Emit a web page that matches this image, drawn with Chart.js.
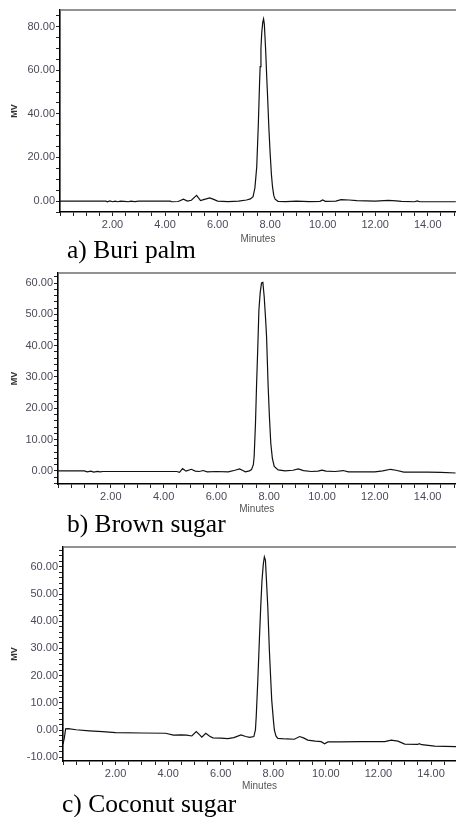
<!DOCTYPE html>
<html>
<head>
<meta charset="utf-8">
<script src="https://cdn.jsdelivr.net/npm/chart.js@4.4.1/dist/chart.umd.min.js"></script>
<style>
    body { margin: 0; background: #fff; }
    #page { position: relative; width: 456px; height: 817px; overflow: hidden; background: #fff; }
    .panel { position: absolute; left: 0; }
    .caption {
        position: absolute;
        font-family: "Liberation Serif", "Times New Roman", serif;
        font-size: 25.5px;
        line-height: 25.5px;
        color: #000;
        white-space: nowrap;
    }
</style>
</head>
<body>
<div id="page">
    <canvas id="chartA" class="panel" width="456" height="245" style="top:0px"></canvas>
    <canvas id="chartB" class="panel" width="456" height="252" style="top:263px"></canvas>
    <canvas id="chartC" class="panel" width="456" height="255" style="top:537px"></canvas>
    <div class="caption" style="left:67px; top:237px">a) Buri palm</div>
    <div class="caption" style="left:67px; top:511px">b) Brown sugar</div>
    <div class="caption" style="left:62px; top:791px">c) Coconut sugar</div>
</div>

<script>
// Chromatogram traces - retention time (minutes) and detector signal (MV)

const timeA = [0.0, 1.0, 1.75, 1.8, 1.9, 2.0, 2.1, 2.2, 2.3, 2.45, 2.6, 2.7, 2.85, 3.0, 4.2, 4.25, 4.5, 4.7, 4.85, 5.0,
    5.2, 5.35, 5.5, 5.7, 5.85, 6.0, 6.4, 6.8, 7.1, 7.25, 7.35, 7.42, 7.49, 7.55, 7.6, 7.62, 7.65, 7.68, 7.72, 7.75,
    7.78, 7.83, 7.87, 7.91, 7.95, 8.0, 8.05, 8.09, 8.14, 8.19, 8.3, 8.6, 9.0, 9.5, 9.9, 10.0, 10.1, 10.5, 10.7, 11.0,
    11.3, 12.0, 12.5, 12.8, 13.0, 13.5, 13.6, 13.7, 15.1];
const mvA = [0.0, 0.0, 0.0, -0.3, 0.1, -0.3, 0.0, -0.3, 0.0, -0.1, -0.3, 0.0, -0.2, 0.0, 0.0, -0.3, -0.2, 0.9, 0.0, 0.4,
    2.6, 0.2, 0.8, 1.5, 0.8, 0.0, -0.2, 0.0, 0.5, 1.0, 2.0, 6.0, 15.7, 35.0, 55.0, 61.6, 70.0, 77.0, 82.0, 83.5,
    81.0, 69.0, 57.0, 46.0, 34.0, 22.0, 12.0, 6.6, 2.5, 0.9, -0.1, -0.2, 0.0, -0.2, -0.1, 0.5, -0.1, 0.0, 0.7, 0.5,
    0.2, 0.0, 0.3, 0.1, -0.1, -0.3, 0.1, -0.3, -0.3];

const timeB = [0.0, 1.0, 1.1, 1.25, 1.35, 1.5, 1.6, 1.7, 3.0, 4.5, 4.6, 4.72, 4.85, 5.05, 5.2, 5.35, 5.5, 5.65, 6.0, 6.45,
    6.7, 6.88, 7.0, 7.1, 7.25, 7.33, 7.4, 7.43, 7.48, 7.52, 7.57, 7.61, 7.66, 7.71, 7.76, 7.81, 7.86, 7.9, 7.96, 8.01,
    8.06, 8.12, 8.19, 8.34, 8.6, 8.9, 9.1, 9.3, 9.6, 9.85, 10.0, 10.15, 10.5, 10.8, 11.0, 12.0, 12.3, 12.6, 12.8, 13.1,
    14.0, 14.5, 15.1];
const mvB = [0.0, 0.0, -0.3, -0.1, -0.4, -0.2, -0.3, -0.2, -0.2, -0.2, -0.5, 0.7, -0.1, 0.5, -0.1, -0.2, 0.1, -0.3, -0.2, -0.3,
    0.2, 0.6, 0.1, -0.3, 0.0, 0.4, 2.0, 4.6, 15.0, 27.0, 40.0, 51.4, 57.0, 60.0, 60.2, 55.7, 49.0, 42.9, 27.0, 17.0,
    8.8, 4.0, 1.4, 0.3, 0.0, 0.2, 0.6, 0.1, -0.2, -0.1, 0.2, -0.1, -0.2, 0.1, -0.3, -0.3, 0.0, 0.5, 0.2, -0.4,
    -0.4, -0.5, -0.7];

const timeC = [0.0, 0.05, 0.1, 0.2, 0.5, 1.0, 1.5, 2.0, 3.0, 3.9, 4.2, 4.5, 4.7, 4.9, 5.07, 5.2, 5.28, 5.43, 5.58, 5.7,
    6.0, 6.27, 6.5, 6.77, 6.95, 7.1, 7.26, 7.32, 7.35, 7.41, 7.47, 7.52, 7.57, 7.62, 7.66, 7.7, 7.74, 7.79, 7.85, 7.9,
    7.94, 8.0, 8.04, 8.1, 8.17, 8.5, 8.8, 9.0, 9.15, 9.31, 9.6, 9.82, 9.95, 10.08, 10.5, 11.35, 12.24, 12.49, 12.74, 13.0,
    13.5, 13.55, 13.65, 14.14, 15.0];
const mvC = [-5.2, -3.0, 0.4, 0.5, 0.1, -0.3, -0.6, -1.0, -1.1, -1.2, -1.9, -1.8, -1.9, -2.2, -0.6, -1.8, -2.6, -1.2, -2.3, -2.9,
    -3.0, -3.2, -2.8, -1.8, -2.4, -2.7, -2.4, 0.0, 4.9, 18.0, 33.1, 45.0, 55.1, 61.0, 63.7, 62.5, 55.0, 45.3, 29.4, 19.0,
    11.0, 4.0, 0.0, -2.2, -3.1, -3.3, -3.4, -2.4, -2.9, -3.7, -4.1, -4.3, -5.1, -4.4, -4.4, -4.3, -4.3, -3.7, -4.1, -5.2,
    -5.3, -5.0, -5.4, -5.9, -6.1];

// axis settings per panel
const yLimitsA = [-5, 87.6];
const yLimitsB = [-4.2, 63.2];
const yLimitsC = [-11.4, 67.3];
const xLimitsA = [0, 15.07];
const xLimitsB = [0, 15.06];
const xLimitsC = [0, 14.95];

const AXIS_FONT = '"Liberation Sans", Arial, sans-serif';

const stepTicks = (min, max, step) => {
    const out = [];
    for (let v = Math.ceil(min / step - 1e-9) * step; v <= max + 1e-9; v += step) {
        out.push({ value: Math.round(v * 1000) / 1000 });
    }
    return out;
};

const topBorder = {
    id: 'topBorder',
    afterDraw(chart) {
        const { ctx, chartArea } = chart;
        ctx.save();
        ctx.strokeStyle = '#6e6e6e';
        ctx.lineWidth = 1.6;
        ctx.beginPath();
        ctx.moveTo(chartArea.left, chartArea.top);
        ctx.lineTo(chart.width, chartArea.top);
        ctx.stroke();
        ctx.restore();
    }
};

function makeChart(id, times, values, cfg) {
    const ctx = document.getElementById(id).getContext('2d');
    return new Chart(ctx, {
        type: 'line',
        data: {
            datasets: [{
                data: times.map((t, i) => ({ x: t, y: values[i] })),
                borderColor: '#111',
                borderWidth: 1.2,
                pointRadius: 0,
                tension: 0,
                fill: false
            }]
        },
        options: {
            responsive: false,
            animation: false,
            layout: { padding: { top: 10, right: 0, left: 0, bottom: 0 } },
            scales: {
                x: {
                    type: 'linear',
                    min: cfg.x[0],
                    max: cfg.x[1],
                    afterBuildTicks: s => { s.ticks = stepTicks(cfg.x[0], cfg.x[1], 0.5); },
                    afterFit: s => { s.height = cfg.xHeight; },
                    border: { color: '#000', width: 1.5 },
                    grid: { drawOnChartArea: false, drawTicks: true, tickLength: 4, color: '#222' },
                    ticks: {
                        autoSkip: false,
                        maxRotation: 0,
                        padding: 2,
                        color: '#4a4a5a',
                        font: { family: AXIS_FONT, size: 11 },
                        callback: v => (Math.abs(v % 2) < 1e-6 && v > 0 && v < 15) ? v.toFixed(2) : ''
                    },
                    title: {
                        display: true,
                        text: 'Minutes',
                        color: '#555',
                        padding: 0,
                        font: { family: AXIS_FONT, size: 10 }
                    }
                },
                y: {
                    min: cfg.y[0],
                    max: cfg.y[1],
                    afterBuildTicks: s => { s.ticks = stepTicks(cfg.y[0], cfg.y[1], cfg.minor); },
                    afterFit: s => { s.width = cfg.yWidth; },
                    border: { color: '#000', width: 1.6 },
                    grid: { drawOnChartArea: false, drawTicks: true, tickLength: 4, color: '#222' },
                    ticks: {
                        autoSkip: false,
                        padding: 1,
                        color: '#4a4a5a',
                        font: { family: AXIS_FONT, size: 11 },
                        callback: v => Math.abs(v % cfg.major) < 1e-6 ? v.toFixed(2) : ''
                    },
                    title: {
                        display: true,
                        text: 'MV',
                        color: '#333',
                        padding: { top: 9, bottom: 0 },
                        font: { family: AXIS_FONT, size: 9, weight: 'bold' }
                    }
                }
            },
            plugins: {
                legend: { display: false },
                tooltip: { enabled: false }
            }
        },
        plugins: [topBorder]
    });
}

makeChart('chartA', timeA, mvA, { x: xLimitsA, y: yLimitsA, minor: 5, major: 20, yWidth: 60, xHeight: 33 });
makeChart('chartB', timeB, mvB, { x: xLimitsB, y: yLimitsB, minor: 2, major: 10, yWidth: 58, xHeight: 31 });
makeChart('chartC', timeC, mvC, { x: xLimitsC, y: yLimitsC, minor: 2, major: 10, yWidth: 63, xHeight: 31 });
</script>
</body>
</html>
